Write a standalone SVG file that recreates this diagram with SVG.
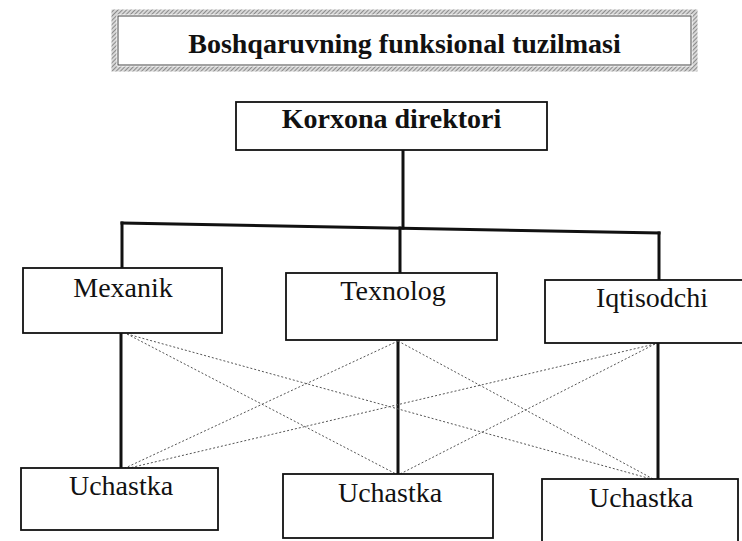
<svg xmlns="http://www.w3.org/2000/svg" width="742" height="541" viewBox="0 0 742 541">
<defs>
<pattern id="hatch" width="3" height="3" patternUnits="userSpaceOnUse" patternTransform="rotate(45)">
<rect width="3" height="3" fill="#d8d8d8"/>
<line x1="0" y1="0" x2="0" y2="3" stroke="#6a6a6a" stroke-width="1.4"/>
</pattern>
</defs>
<style>
.box{fill:#fff;stroke:#111;stroke-width:1.8}
.lbl{font-family:"Liberation Serif","Times New Roman",serif;font-size:28px;fill:#111;text-anchor:middle}
.bold{font-weight:bold}
.thick{stroke:#111;stroke-width:3;fill:none;stroke-linecap:square}
.dot{stroke:#555;stroke-width:1;stroke-dasharray:2 2;fill:none}
</style>
<rect width="742" height="541" fill="#fff"/>
<g id="title">
<rect x="114" y="12" width="581" height="57" fill="none" stroke="url(#hatch)" stroke-width="5"/>
<rect x="118" y="16" width="573" height="49" fill="#fff" stroke="#444" stroke-width="1"/>
<text class="lbl bold" x="404.5" y="53">Boshqaruvning funksional tuzilmasi</text>
</g>
<g id="connectors">
<line class="thick" x1="403" y1="150" x2="403" y2="228"/>
<line class="thick" x1="122" y1="223" x2="659" y2="233"/>
<line class="thick" x1="122" y1="223" x2="122" y2="268"/>
<line class="thick" x1="400" y1="228" x2="400" y2="273"/>
<line class="thick" x1="659" y1="233" x2="659" y2="280"/>
<line class="thick" x1="121" y1="333" x2="121" y2="468"/>
<line class="thick" x1="398" y1="340" x2="398" y2="474"/>
<line class="thick" x1="658" y1="343" x2="658" y2="479"/>
<line class="dot" x1="127" y1="334" x2="398" y2="475"/>
<line class="dot" x1="127" y1="334" x2="655" y2="480"/>
<line class="dot" x1="398" y1="341" x2="123" y2="469"/>
<line class="dot" x1="398" y1="341" x2="655" y2="480"/>
<line class="dot" x1="655" y1="344" x2="125" y2="469"/>
<line class="dot" x1="655" y1="344" x2="400" y2="474"/>
</g>
<g id="korxona">
<rect class="box" x="236" y="102" width="311" height="48"/>
<text class="lbl bold" x="391.5" y="128">Korxona direktori</text>
</g>
<g id="mexanik">
<rect class="box" x="23" y="268" width="199" height="65"/>
<text class="lbl" x="123" y="297">Mexanik</text>
</g>
<g id="texnolog">
<rect class="box" x="286" y="273" width="211" height="67"/>
<text class="lbl" x="393" y="300">Texnolog</text>
</g>
<g id="iqtisodchi">
<rect class="box" x="545" y="280" width="205" height="63"/>
<text class="lbl" x="652" y="307">Iqtisodchi</text>
</g>
<g id="uchastka1">
<rect class="box" x="21" y="468" width="197" height="62"/>
<text class="lbl" x="121" y="495">Uchastka</text>
</g>
<g id="uchastka2">
<rect class="box" x="283" y="474" width="210" height="64"/>
<text class="lbl" x="390" y="502">Uchastka</text>
</g>
<g id="uchastka3">
<rect class="box" x="542" y="479" width="196" height="70"/>
<text class="lbl" x="641" y="507">Uchastka</text>
</g>
</svg>
